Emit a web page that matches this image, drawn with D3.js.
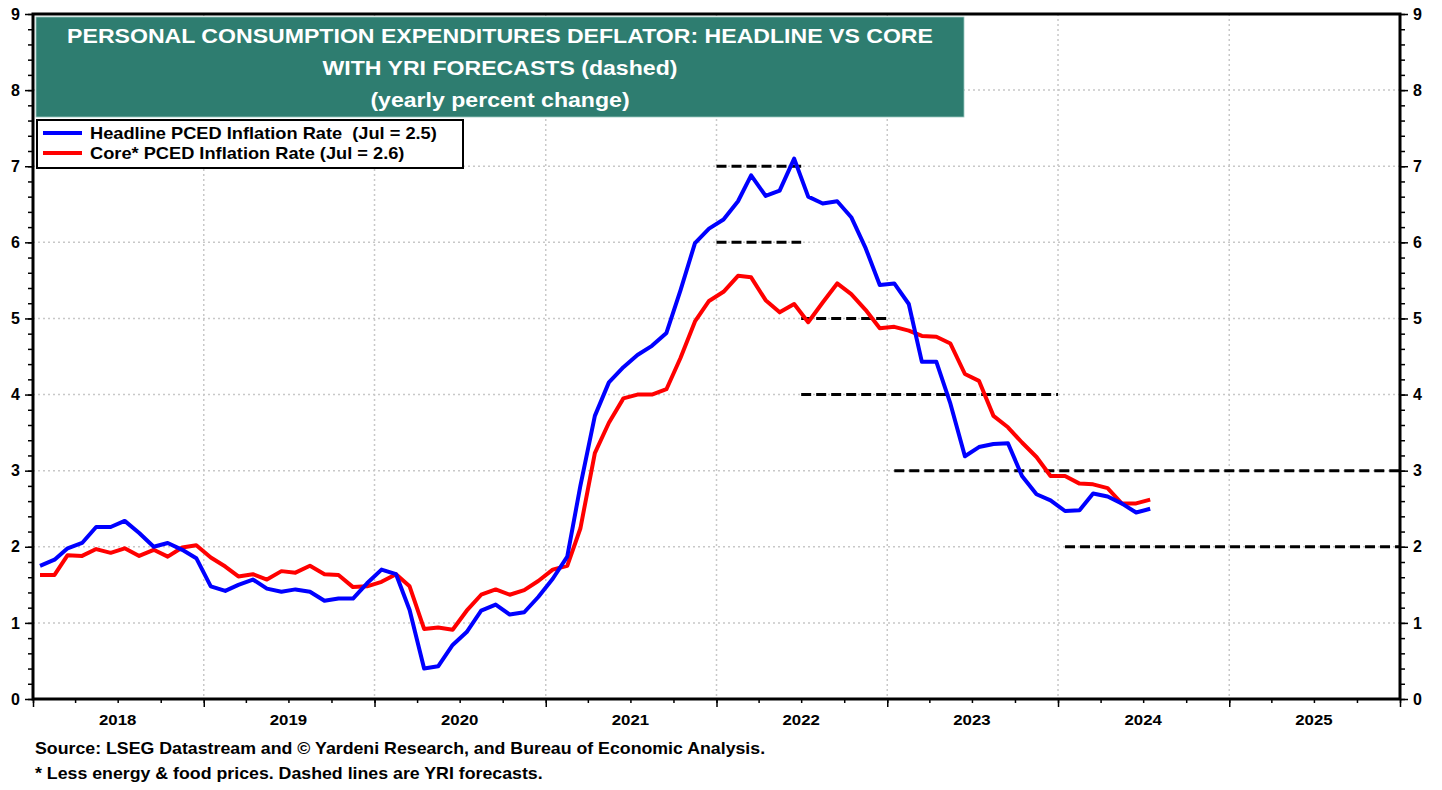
<!DOCTYPE html>
<html>
<head>
<meta charset="utf-8">
<script src="https://cdn.jsdelivr.net/npm/d3@7"></script>
<style>
  body { margin: 0; background: #fff; }
  svg { font-family: "Liberation Sans", Arial, sans-serif; font-weight: bold; }
</style>
</head>
<body>
<svg id="chart" width="1442" height="790"></svg>
<script>
// monthly values, Jan 2018 .. Jul 2024
const headline = [
  1.75, 1.83, 1.98, 2.05, 2.26, 2.26, 2.34, 2.18, 2.00, 2.05, 1.96, 1.85,
  1.48, 1.42, 1.50, 1.57, 1.45, 1.41, 1.44, 1.41, 1.29, 1.32, 1.32, 1.52,
  1.70, 1.64, 1.17, 0.40, 0.43, 0.71, 0.88, 1.16, 1.24, 1.11, 1.14, 1.34,
  1.58, 1.87, 2.80, 3.72, 4.16, 4.36, 4.52, 4.64, 4.81, 5.37, 5.99, 6.18,
  6.30, 6.54, 6.88, 6.61, 6.68, 7.10, 6.60, 6.51, 6.54, 6.33, 5.92, 5.44,
  5.46, 5.19, 4.43, 4.43, 3.88, 3.19, 3.31, 3.35, 3.36, 2.93, 2.69, 2.61,
  2.47, 2.48, 2.70, 2.66, 2.57, 2.45, 2.50
];
const core = [
  1.63, 1.63, 1.89, 1.88, 1.97, 1.92, 1.98, 1.88, 1.96, 1.87, 1.99, 2.02,
  1.86, 1.74, 1.61, 1.64, 1.57, 1.68, 1.66, 1.75, 1.64, 1.63, 1.47, 1.48,
  1.54, 1.64, 1.48, 0.92, 0.94, 0.91, 1.16, 1.37, 1.44, 1.37, 1.43, 1.55,
  1.70, 1.75, 2.24, 3.23, 3.63, 3.95, 4.00, 4.00, 4.07, 4.48, 4.96, 5.23,
  5.35, 5.56, 5.54, 5.24, 5.08, 5.19, 4.95, 5.21, 5.46, 5.32, 5.11, 4.87,
  4.89, 4.84, 4.77, 4.76, 4.67, 4.27, 4.18, 3.72, 3.57, 3.37, 3.18, 2.93,
  2.93, 2.83, 2.82, 2.77, 2.57, 2.57, 2.62
];
// YRI forecasts: [value, from, to]
const forecasts = [
  [7, "2022-01-01", "2022-07-01"],
  [6, "2022-01-01", "2022-07-01"],
  [5, "2022-07-01", "2023-01-01"],
  [4, "2022-07-01", "2024-01-01"],
  [3, "2023-01-16", "2026-01-01"],
  [2, "2024-01-16", "2026-01-01"]
];
const years = [2018, 2019, 2020, 2021, 2022, 2023, 2024, 2025];
const yTicks = [0, 1, 2, 3, 4, 5, 6, 7, 8, 9];
const titleLines = [
  "PERSONAL CONSUMPTION EXPENDITURES DEFLATOR: HEADLINE VS CORE",
  "WITH YRI FORECASTS (dashed)",
  "(yearly percent change)"
];
const legendItems = [
  ["Headline PCED Inflation Rate  (Jul = 2.5)", "#0000ff"],
  ["Core* PCED Inflation Rate (Jul = 2.6)", "#ff0000"]
];
const notes = [
  "Source: LSEG Datastream and \u00a9 Yardeni Research, and Bureau of Economic Analysis.",
  "* Less energy & food prices. Dashed lines are YRI forecasts."
];

const svg = d3.select("#chart");
const pLeft = 33, pRight = 1400, pTop = 14, pBottom = 699;

const x = d3.scaleTime()
  .domain([new Date(2018, 0, 1), new Date(2026, 0, 1)])
  .range([pLeft, pRight]);
const y = d3.scaleLinear().domain([0, 9]).range([pBottom, pTop]);

const monthDate = i => new Date(2018, i, 16);

// the source lettering is a bit wider than Arial, so stretch text sideways
const stretch = (sel, fx, fy, k) => sel
  .attr("transform", (d, i) => `translate(${fx(d, i)},${fy(d, i)}) scale(${k},1)`);

// gridlines
const grid = svg.append("g")
  .attr("stroke", "#c8c8c8")
  .attr("stroke-width", 1.5)
  .attr("stroke-dasharray", "2,3");
grid.selectAll("line.h")
  .data(yTicks.filter(d => d > 0 && d < 9))
  .join("line")
  .attr("class", "h")
  .attr("x1", pLeft).attr("x2", pRight)
  .attr("y1", d => y(d)).attr("y2", d => y(d));
grid.selectAll("line.v")
  .data(years.slice(1))
  .join("line")
  .attr("class", "v")
  .attr("x1", d => x(new Date(d, 0, 1))).attr("x2", d => x(new Date(d, 0, 1)))
  .attr("y1", pTop).attr("y2", pBottom);

// title box
svg.append("rect")
  .attr("x", 36).attr("y", 17).attr("width", 928).attr("height", 100)
  .attr("fill", "#2e7d70")
  .attr("stroke", "#9cc9c0").attr("stroke-width", 0.8);
svg.append("g").selectAll("text")
  .data(titleLines)
  .join("text")
  .attr("text-anchor", "middle")
  .attr("fill", "#fff")
  .attr("font-size", 21)
  .text(d => d)
  .call(stretch, () => 500, (d, i) => 43 + i * 32, 1.1);

// legend
const lg = svg.append("g");
lg.append("rect")
  .attr("x", 37).attr("y", 120).attr("width", 426).attr("height", 48)
  .attr("fill", "#fff").attr("stroke", "#000").attr("stroke-width", 2);
legendItems.forEach((d, i) => {
  const yy = 133 + i * 20;
  lg.append("line")
    .attr("x1", 43).attr("x2", 82).attr("y1", yy).attr("y2", yy)
    .attr("stroke", d[1]).attr("stroke-width", 4);
  lg.append("text")
    .attr("font-size", 16)
    .attr("xml:space", "preserve")
    .style("white-space", "pre")
    .text(d[0])
    .attr("transform", `translate(90,${yy + 6}) scale(1.14,1)`);
});

// forecast dashes
svg.append("g").selectAll("line")
  .data(forecasts)
  .join("line")
  .attr("x1", d => x(new Date(d[1] + "T00:00"))).attr("x2", d => x(new Date(d[2] + "T00:00")))
  .attr("y1", d => y(d[0])).attr("y2", d => y(d[0]))
  .attr("stroke", "#000").attr("stroke-width", 3)
  .attr("stroke-dasharray", "10,5");

// series
const line = d3.line()
  .x((d, i) => x(monthDate(i)))
  .y(d => y(d));
svg.append("path").datum(core)
  .attr("fill", "none").attr("stroke", "#ff0000").attr("stroke-width", 4)
  .attr("stroke-linejoin", "round")
  .attr("d", line);
svg.append("path").datum(headline)
  .attr("fill", "none").attr("stroke", "#0000ff").attr("stroke-width", 4)
  .attr("stroke-linejoin", "round")
  .attr("d", line);

// frame
svg.append("rect")
  .attr("x", pLeft).attr("y", pTop).attr("width", pRight - pLeft).attr("height", pBottom - pTop)
  .attr("fill", "none").attr("stroke", "#000").attr("stroke-width", 3);

// y axes
const minor = d3.range(0, 9.001, 0.2);
const yl = svg.append("g").attr("transform", `translate(${pLeft},0)`)
  .call(d3.axisLeft(y).tickValues(minor).tickSize(5).tickFormat(""));
const yl2 = svg.append("g").attr("transform", `translate(${pLeft},0)`)
  .call(d3.axisLeft(y).tickValues(yTicks).tickSize(8).tickPadding(5).tickFormat(d3.format("d")));
const yr = svg.append("g").attr("transform", `translate(${pRight},0)`)
  .call(d3.axisRight(y).tickValues(minor).tickSize(5).tickFormat(""));
const yr2 = svg.append("g").attr("transform", `translate(${pRight},0)`)
  .call(d3.axisRight(y).tickValues(yTicks).tickSize(8).tickPadding(5).tickFormat(d3.format("d")));

// x axis
const quarters = d3.timeMonth.every(3).range(new Date(2018, 0, 1), new Date(2026, 0, 2));
const xq = svg.append("g").attr("transform", `translate(0,${pBottom})`)
  .call(d3.axisBottom(x).tickValues(quarters).tickSize(4).tickFormat(""));
const xy = svg.append("g").attr("transform", `translate(0,${pBottom})`)
  .call(d3.axisBottom(x).tickValues(years.map(d => new Date(d, 0, 1)).concat([new Date(2026, 0, 1)]))
    .tickSize(8).tickFormat(""));

[yl, yl2, yr, yr2, xq, xy].forEach(g => {
  g.select(".domain").remove();
  g.selectAll("line").attr("stroke", "#000").attr("stroke-width", 1.5);
  g.selectAll("text").attr("font-size", 16).attr("fill", "#000")
    .attr("font-family", "Liberation Sans, Arial, sans-serif").attr("font-weight", "bold");
});

svg.append("g").selectAll("text")
  .data(years)
  .join("text")
  .attr("text-anchor", "middle")
  .attr("font-size", 15)
  .text(d => d)
  .call(stretch, d => x(new Date(d, 6, 1)), () => 725, 1.12);

svg.append("g").selectAll("text")
  .data(notes)
  .join("text")
  .attr("font-size", 16)
  .text(d => d)
  .call(stretch, () => 35, (d, i) => 754 + i * 25, 1.11);
</script>
</body>
</html>
